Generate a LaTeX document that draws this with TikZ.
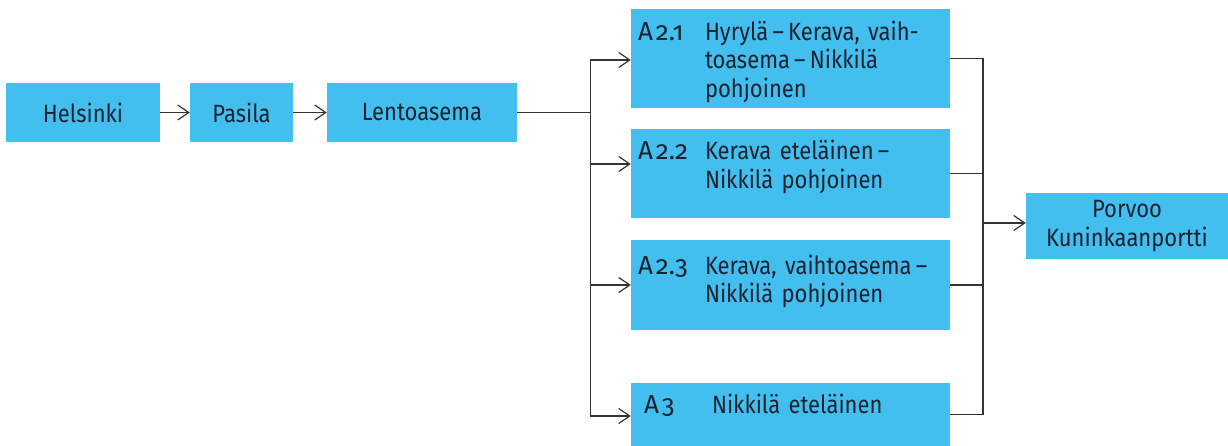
\documentclass[tikz,border=0pt]{standalone}
\usepackage{fontspec}
\setmainfont[FakeStretch=0.88]{Fira Sans}
\newfontfamily\codefont[Numbers=OldStyle]{Fira Sans}
\usetikzlibrary{arrows.meta,positioning,calc}
\definecolor{RouteBlue}{HTML}{42BFEF}
\definecolor{RouteInk}{HTML}{1E2230}
\definecolor{RouteLine}{HTML}{333333}
\tikzset{
  routearrow/.style={-{Straight Barb[length=11pt,width=15pt]}, line width=1.2pt, draw=RouteLine},
  routeline/.style={line width=1.2pt, draw=RouteLine}
}
\newcommand{\legcode}[1]{{\codefont\fontsize{26}{28.5}\selectfont A\kern3pt#1}}

\begin{document}
\begin{tikzpicture}[x=1pt, y=-1pt,
  font=\fontsize{25}{28.5}\selectfont,
  stop/.style={fill=RouteBlue, text=RouteInk, inner sep=0pt, minimum height=59pt, align=center},
  leg/.style={fill=RouteBlue, text=RouteInk, inner xsep=7pt, inner ysep=0pt, text width=305pt, align=left, minimum width=319pt}
]
\useasboundingbox (0,0) rectangle (1228,446);
\node[stop, minimum width=154pt] at (83,112.5) (helsinki) {Helsinki};
\node[stop, minimum width=103pt] at (241.5,112.5) (pasila) {Pasila};
\node[stop, minimum width=190pt] at (422,112.5) (lento) {Lentoasema};

\node[leg, minimum height=99pt] at (790.5,58.5) (a21) {\raisebox{-11pt}[0pt][0pt]{\begin{tabular}{@{}p{67pt}@{}l@{}}\legcode{2.1} & Hyrylä\,–\,Kerava, vaih-\\ & toasema\,–\,Nikkilä\\ & pohjoinen\end{tabular}}};
\node[leg, minimum height=89pt] at (790.5,173.5) (a22) {\raisebox{-1pt}[0pt][0pt]{\begin{tabular}{@{}p{67pt}@{}l@{}}\legcode{2.2} & Kerava eteläinen\,–\\ & Nikkilä pohjoinen\end{tabular}}};
\node[leg, minimum height=90pt] at (790.5,285) (a23) {\raisebox{-4pt}[0pt][0pt]{\begin{tabular}{@{}p{67pt}@{}l@{}}\legcode{2.3} & Kerava, vaihtoasema\,–\\ & Nikkilä pohjoinen\end{tabular}}};
\node[leg, minimum height=63pt] at (790.5,414.5) (a3) {\raisebox{0pt}[0pt][0pt]{\begin{tabular}{@{}p{67pt}@{}l@{}}\hspace{6pt}\legcode{3} & \hspace{7pt}Nikkilä eteläinen\end{tabular}}};

\node[stop, minimum width=202pt, minimum height=66pt] at (1127,226) (porvoo) {Porvoo\\Kuninkaanportti};

\coordinate (fork) at (590.5,112.5);
\coordinate (join) at (983,223);

\draw[routearrow] (helsinki) -- (pasila);
\draw[routearrow] (pasila) -- (lento);
\draw[routeline] (lento.east) -- (fork);
\draw[routearrow] (fork) |- ([yshift=-1.5pt]a21.west);
\draw[routearrow] (fork) |- ([yshift=9.5pt]a22.west);
\draw[routearrow] (fork) |- (a23.west);
\draw[routearrow] (fork) |- ([yshift=-1.5pt]a3.west);
\foreach \leg in {a21,a22,a23,a3}
  \draw[routeline] (\leg.east) -| (join);
\draw[routearrow] (join) -- (join -| porvoo.west);
\end{tikzpicture}
\end{document}
